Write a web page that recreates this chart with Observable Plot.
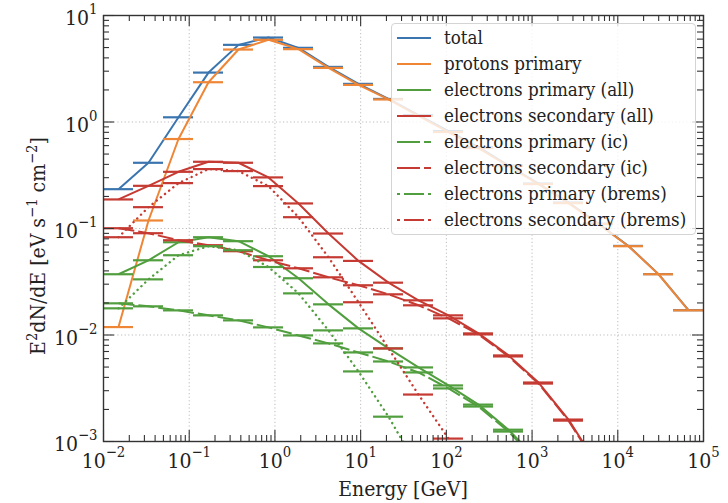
<!DOCTYPE html>
<html><head><meta charset="utf-8">
<script src="https://cdn.jsdelivr.net/npm/d3@7"></script>
<script src="https://cdn.jsdelivr.net/npm/@observablehq/plot@0.6"></script>
<style>
body{margin:0;background:#fff;}
#wrap{position:relative;width:728px;height:503px;}
#wrap svg{font-family:"DejaVu Serif Condensed","DejaVu Serif",serif;font-stretch:condensed;}
#legend{position:absolute;left:391px;top:23px;width:305px;height:212px;background:rgba(255,255,255,0.8);border:1px solid #d4d4d4;border-radius:4px;box-sizing:border-box;font-family:"DejaVu Serif Condensed","DejaVu Serif",serif;font-stretch:condensed;}
.row{position:absolute;left:0;width:100%;height:26px;}
.row svg{position:absolute;left:5px;top:8px;}
.row span{position:absolute;left:52px;top:0;line-height:26px;font-size:18.6px;color:#222;white-space:nowrap;}
</style></head><body><div id="wrap"></div>
<script>
// ---- data ----
const energyLo = [0.01, 0.02239, 0.05012, 0.1122, 0.2512, 0.5623, 1.259, 2.818, 6.310, 14.13, 31.62, 70.79, 158.5, 354.8, 794.3, 1778, 3981, 8913, 19953, 44668];
const energyHi = [0.02239, 0.05012, 0.1122, 0.2512, 0.5623, 1.259, 2.818, 6.310, 14.13, 31.62, 70.79, 158.5, 354.8, 794.3, 1778, 3981, 8913, 19953, 44668, 100000];
const energyMid = [0.01496, 0.0335, 0.07499, 0.1679, 0.3758, 0.8414, 1.884, 4.217, 9.441, 21.13, 47.32, 105.9, 237.1, 530.9, 1189, 2661, 5957, 13335, 29854, 66834];

const total = [0.234, 0.414, 1.107, 2.91, 5.30, 6.21, 4.97, 3.29, 2.28, 1.646, 1.16, 0.82, 0.58, 0.39, 0.264, 0.175, 0.111, 0.0686, 0.0373, 0.0171];
const protonsPrimary = [0.01187, 0.1189, 0.692, 2.363, 4.79, 5.91, 4.83, 3.22, 2.23, 1.628, 1.139, 0.805, 0.569, 0.3855, 0.2611, 0.173, 0.1098, 0.0682, 0.0372, 0.01704];
const electronsPrimaryAll = [0.0372, 0.0503, 0.0743, 0.0828, 0.0760, 0.0549, 0.0341, 0.0194, 0.01154, 0.00748, 0.00496, 0.00336, 0.00222, 0.00129, 0.000661];
const electronsSecondaryAll = [0.1874, 0.2516, 0.3406, 0.4232, 0.4142, 0.3018, 0.1719, 0.0897, 0.0496, 0.0310, 0.02116, 0.01529, 0.01035, 0.00643, 0.00358, 0.001607, 0.000581];
const electronsPrimaryIc = [0.01983, 0.01858, 0.01703, 0.01529, 0.01372, 0.01179, 0.00991, 0.00834, 0.00686, 0.00564, 0.00445, 0.00315, 0.00213, 0.00124, 0.000633];
const electronsSecondaryIc = [0.1006, 0.0903, 0.0776, 0.0697, 0.0612, 0.0503, 0.0423, 0.0348, 0.0293, 0.0241, 0.0190, 0.01433, 0.01013, 0.00629, 0.00350, 0.00157, 0.000568];
const electronsPrimaryBrems = [0.0178, 0.0333, 0.0561, 0.0682, 0.0625, 0.0435, 0.0246, 0.01105, 0.00455, 0.00171, 0.000556];
const electronsSecondaryBrems = [0.0828, 0.1586, 0.2668, 0.3613, 0.346, 0.250, 0.1277, 0.0537, 0.0203, 0.00748, 0.00276, 0.001065, 0.000345];

const seriesNames = ["total", "protons primary", "electrons primary (all)", "electrons secondary (all)", "electrons primary (ic)", "electrons secondary (ic)", "electrons primary (brems)", "electrons secondary (brems)"];
const xTicks = [1e-2, 1e-1, 1e0, 1e1, 1e2, 1e3, 1e4, 1e5];
const yTicks = [1e-3, 1e-2, 1e-1, 1e0, 1e1];
const xLabel = "Energy [GeV]";

// ---- styles ----
const C = {blue: "#3b75af", orange: "#ef8636", green: "#519e3e", red: "#c53a32"};
const DASH = {solid: null, ic: "16,4", brems: "0.1,5.2"};
const LEG = {solid: null, ic: "23,4,7", brems: "3,4,20,4,3"};
const series = [
  {values: total, color: C.blue, kind: "solid"},
  {values: protonsPrimary, color: C.orange, kind: "solid"},
  {values: electronsPrimaryAll, color: C.green, kind: "solid"},
  {values: electronsSecondaryAll, color: C.red, kind: "solid"},
  {values: electronsPrimaryIc, color: C.green, kind: "ic"},
  {values: electronsSecondaryIc, color: C.red, kind: "ic"},
  {values: electronsPrimaryBrems, color: C.green, kind: "brems"},
  {values: electronsSecondaryBrems, color: C.red, kind: "brems"}
].map((s, i) => ({...s, name: seriesNames[i],
  rows: s.values.map((v, j) => ({lo: energyLo[j], hi: energyHi[j], mid: energyMid[j], v}))}));

const W = 728, H = 503, mL = 103, mR = 25, mT = 15, mB = 62;
const fh = H - mT - mB, fw = W - mL - mR;
const majLen = 11, minLen = 6;
const steps = [2, 3, 4, 5, 6, 7, 8, 9];
const xMinor = xTicks.slice(0, -1).flatMap(d => steps.map(k => k * d));
const yMinor = yTicks.slice(0, -1).flatMap(d => steps.map(k => k * d));
const tk = {stroke: "#333", strokeWidth: 1.1};
const grid = {stroke: "#b4b4b4", strokeWidth: 0.9, strokeDasharray: "1.2,2.4"};

const marks = [
  Plot.ruleX(xTicks, grid),
  Plot.ruleY(yTicks, grid)
];
for (const s of series) {
  marks.push(Plot.line(s.rows, {x: "mid", y: "v", stroke: s.color,
    strokeDasharray: DASH[s.kind], strokeLinecap: s.kind === "brems" ? "round" : "butt",
    strokeWidth: s.kind === "brems" ? 2.4 : 2, clip: true}));
  marks.push(Plot.ruleY(s.rows, {y: "v", x1: "lo", x2: "hi", stroke: s.color, strokeWidth: 2.2, clip: true}));
}
marks.push(
  Plot.ruleX(xTicks, {...tk, insetTop: fh - majLen}),
  Plot.ruleX(xTicks, {...tk, insetBottom: fh - majLen}),
  Plot.ruleX(xMinor, {...tk, insetTop: fh - minLen}),
  Plot.ruleX(xMinor, {...tk, insetBottom: fh - minLen}),
  Plot.ruleY(yTicks, {...tk, insetRight: fw - majLen}),
  Plot.ruleY(yTicks, {...tk, insetLeft: fw - majLen}),
  Plot.ruleY(yMinor, {...tk, insetRight: fw - minLen}),
  Plot.ruleY(yMinor, {...tk, insetLeft: fw - minLen}),
  Plot.frame({stroke: "#333", strokeWidth: 1.4})
);

const fmt = d => "10^" + Math.round(Math.log10(d));
const svg = Plot.plot({
  width: W, height: H, marginLeft: mL, marginRight: mR, marginTop: mT, marginBottom: mB,
  style: {fontFamily: "'DejaVu Serif Condensed','DejaVu Serif',serif", fontSize: "21px", color: "#222", background: "transparent", overflow: "visible"},
  x: {type: "log", domain: [1e-2, 1e5], ticks: xTicks, tickFormat: fmt, tickSize: 0, tickPadding: 12, label: null},
  y: {type: "log", domain: [1e-3, 1e1], ticks: yTicks, tickFormat: fmt, tickSize: 0, tickPadding: 6, label: null},
  marks
});

// superscript exponents on tick labels
d3.select(svg).selectAll("text").each(function() {
  const m = /^10\^(-?\d+)$/.exec(this.textContent);
  if (!m) return;
  const isY = !!this.closest("[aria-label^='y-axis']");
  const t = d3.select(this);
  t.text(null);
  t.append("tspan").attr("dy", isY ? 3 : 0).text("10");
  t.append("tspan").attr("dy", -11).attr("font-size", 14.7).text(m[1].replace("-", "\u2212"));
});

// axis titles
const g = d3.select(svg).append("g").attr("fill", "#222").style("font-size", "21px");
g.append("text").attr("x", mL + fw / 2).attr("y", 496).attr("text-anchor", "middle").text(xLabel);
const yl = g.append("text").attr("transform", "translate(45,246) rotate(-90)").attr("text-anchor", "middle");
yl.append("tspan").text("E");
yl.append("tspan").attr("dy", -8).attr("font-size", 14.7).text("2");
yl.append("tspan").attr("dy", 8).text("dN/dE [eV s");
yl.append("tspan").attr("dy", -8).attr("font-size", 14.7).text("\u22121");
yl.append("tspan").attr("dy", 8).text(" cm");
yl.append("tspan").attr("dy", -8).attr("font-size", 14.7).text("\u22122");
yl.append("tspan").attr("dy", 8).text("]");

const wrap = document.getElementById("wrap");
wrap.appendChild(svg);

// legend
const legend = d3.select(wrap).append("div").attr("id", "legend");
series.forEach((s, i) => {
  const row = legend.append("div").attr("class", "row").style("top", (1.3 + 25.9 * i) + "px");
  const sv = row.append("svg").attr("width", 34).attr("height", 10);
  sv.append("line").attr("x1", 0).attr("x2", 34).attr("y1", 5).attr("y2", 5)
    .attr("stroke", s.color).attr("stroke-width", 2.2)
    .attr("stroke-dasharray", LEG[s.kind]);
  row.append("span").text(s.name);
});
</script>
</body></html>
